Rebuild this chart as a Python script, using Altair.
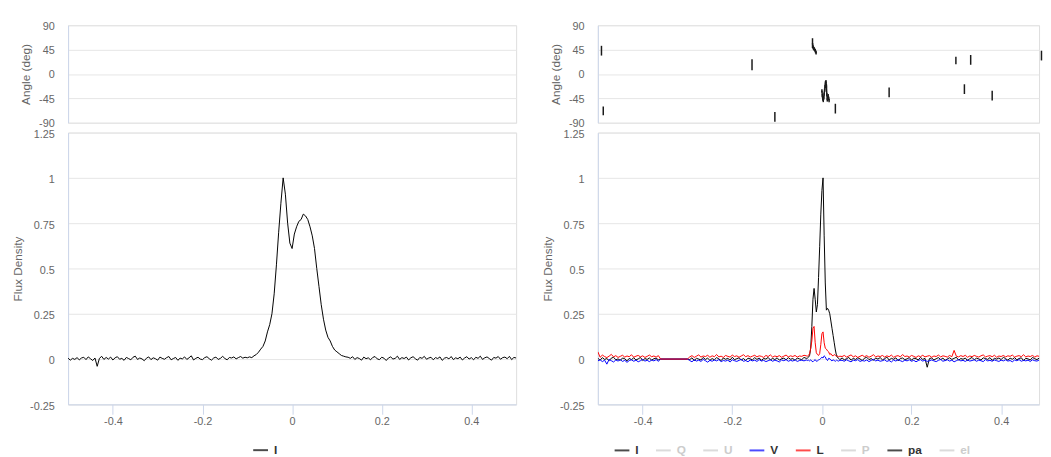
import numpy as np
import pandas as pd
import altair as alt

FONT = "Liberation Sans"
GRID = "#e6e6e6"
AXLINE = "#ccd6eb"
LABEL = "#666666"

# ---------------- left panel: total intensity I ----------------
LEFT_PHASE = np.round(np.arange(-0.5, 0.50001, 0.005), 4)  # 201 bins
LEFT_I_OFF1 = [
    0.005, -0.006, 0.004, -0.002, 0.008, -0.004, 0.006, 0.010, -0.003, 0.012,
    0.002, -0.008, 0.006, -0.040, 0.004, 0.015, -0.002, 0.009, 0.000, 0.011,
    -0.005, 0.007, 0.013, -0.001, 0.004, -0.007, 0.009, 0.003, -0.004, 0.010,
    0.016, -0.002, 0.006, 0.001, -0.009, 0.005, 0.012, -0.003, 0.007, 0.002,
    -0.006, 0.011, 0.004, -0.001, 0.008, 0.014, -0.004, 0.003, 0.009, -0.007,
    0.005, 0.001, 0.012, -0.002, 0.007, 0.018, -0.005, 0.004, 0.010, 0.000,
    -0.003, 0.008, 0.013, 0.002, -0.006, 0.006, 0.011, -0.002, 0.004, 0.015,
    0.003, -0.004, 0.009, 0.006, 0.012, 0.001, 0.008, 0.014, 0.005, 0.010,
    0.007]
LEFT_I_PULSE = [
    0.012, 0.008, 0.018, 0.025, 0.038, 0.055, 0.070, 0.100, 0.150, 0.190,
    0.250, 0.360, 0.520, 0.700, 0.860, 1.000, 0.910, 0.750, 0.640, 0.610,
    0.690, 0.730, 0.760, 0.770, 0.800, 0.790, 0.770, 0.730, 0.680, 0.610,
    0.500, 0.400, 0.300, 0.220, 0.160, 0.120, 0.100, 0.070, 0.050, 0.040,
    0.030, 0.020, 0.016, 0.012]
LEFT_I_OFF2 = [
    0.010, 0.004, 0.013, -0.002, 0.008, 0.003, -0.006, 0.011, 0.002, 0.007,
    -0.004, 0.009, 0.014, 0.001, -0.003, 0.010, 0.005, -0.008, 0.006, 0.012,
    0.000, 0.004, 0.016, -0.002, 0.008, 0.003, 0.011, -0.005, 0.007, 0.013,
    0.002, -0.006, 0.009, 0.004, 0.015, -0.001, 0.006, 0.010, -0.004, 0.008,
    0.003, 0.012, -0.007, 0.005, 0.009, 0.001, 0.014, -0.003, 0.007, 0.002,
    0.011, -0.005, 0.006, 0.013, 0.000, 0.008, -0.004, 0.010, 0.004, 0.016,
    -0.002, 0.007, 0.012, 0.003, -0.006, 0.009, 0.005, 0.014, -0.001, 0.008,
    0.011, 0.002, 0.015, -0.003, 0.009, 0.006]
LEFT_I = LEFT_I_OFF1 + LEFT_I_PULSE + LEFT_I_OFF2

# ---------------- right panel: I, V, L ----------------
R_PH_A = np.round(np.arange(-0.5, -0.3649, 0.005), 4)       # 28
R_PH_GAP = [-0.36, -0.30]                                    # flat, no data
R_PH_B = np.round(np.arange(-0.295, -0.0349, 0.005), 4)      # 53
R_PH_P = np.round(np.arange(-0.0325, 0.04001, 0.0025), 4)    # 30
R_PH_C = np.round(np.arange(0.045, 0.4951, 0.005), 4)        # 91
R_PHASE = list(R_PH_A) + R_PH_GAP + list(R_PH_B) + list(R_PH_P) + list(R_PH_C)

R_I_A = [0.004, -0.006, 0.008, -0.002, 0.003, -0.009, 0.005, 0.010, -0.004, 0.001,
         -0.007, 0.006, 0.002, -0.010, 0.004, -0.003, 0.007, -0.005, 0.001, 0.009,
         -0.008, 0.003, -0.002, 0.006, -0.006, 0.002, 0.005, -0.004]
R_I_B = [-0.003, 0.007, -0.008, 0.004, 0.000, -0.005, 0.009, -0.002, 0.005, -0.007,
         0.003, -0.004, 0.008, 0.001, -0.009, 0.006, -0.001, 0.004, -0.006, 0.010,
         -0.003, 0.002, 0.007, -0.005, 0.003, -0.008, 0.005, 0.001, -0.004, 0.008,
         -0.002, 0.006, -0.007, 0.003, 0.000, 0.009, -0.005, 0.004, -0.003, 0.007,
         -0.006, 0.002, 0.005, -0.004, 0.008, -0.001, 0.003, -0.007, 0.006, 0.001,
         -0.003, 0.009, 0.004]
R_I_P = [0.005, 0.010, 0.020, 0.060, 0.180, 0.330, 0.390, 0.330, 0.260, 0.300,
         0.450, 0.620, 0.800, 0.930, 1.000, 0.680, 0.420, 0.270, 0.280, 0.270,
         0.250, 0.210, 0.170, 0.130, 0.090, 0.050, 0.020, 0.008, 0.004, -0.003]
R_I_C = [0.006, -0.004, 0.002, 0.009, -0.006, 0.004, -0.002, 0.007, 0.001, -0.008,
         0.005, 0.010, -0.003, 0.003, -0.007, 0.006, 0.000, 0.008, -0.004, 0.002,
         0.011, -0.005, 0.004, -0.001, 0.007, -0.009, 0.003, 0.006, -0.003, 0.001,
         0.008, -0.006, 0.005, 0.002, -0.004, 0.009, -0.002, 0.004, -0.045, 0.003,
         0.006, -0.005, 0.002, 0.008, -0.003, 0.005, -0.007, 0.001, 0.007, -0.002,
         0.004, 0.010, -0.006, 0.003, -0.001, 0.006, -0.008, 0.002, 0.009, -0.004,
         0.005, 0.001, -0.005, 0.007, 0.003, -0.002, 0.008, -0.007, 0.004, 0.000,
         0.006, -0.003, 0.010, 0.002, -0.006, 0.005, -0.001, 0.008, -0.004, 0.003,
         0.007, -0.008, 0.004, 0.001, -0.005, 0.009, 0.002, -0.003, 0.006, -0.002,
         0.005]

R_V_A = [-0.010, -0.004, -0.014, -0.006, -0.028, -0.002, -0.009, -0.016, -0.005, -0.011,
         -0.003, -0.013, -0.007, -0.018, -0.008, -0.004, -0.012, -0.006, -0.015, -0.009,
         -0.002, -0.011, -0.007, -0.014, -0.005, -0.010, -0.003, -0.012]
R_V_B = [-0.008, -0.015, -0.004, -0.011, -0.006, -0.013, -0.002, -0.009, -0.017, -0.007,
         -0.012, -0.005, -0.010, -0.003, -0.014, -0.008, -0.011, -0.006, -0.016, -0.004,
         -0.009, -0.013, -0.007, -0.002, -0.012, -0.008, -0.015, -0.005, -0.010, -0.006,
         -0.013, -0.003, -0.011, -0.007, -0.014, -0.009, -0.004, -0.012, -0.006, -0.010,
         -0.016, -0.005, -0.009, -0.003, -0.012, -0.007, -0.011, -0.004, -0.013, -0.008,
         -0.006, -0.010, -0.005]
R_V_P = [-0.008, -0.006, -0.010, -0.004, -0.012, -0.015, -0.008, -0.003, -0.012, -0.010,
         -0.005, -0.002, 0.004, 0.010, 0.006, 0.018, 0.012, -0.002, -0.008, 0.004,
         0.002, -0.006, -0.010, -0.004, -0.008, -0.012, -0.006, -0.009, -0.011, -0.007]
R_V_C = [-0.007, -0.012, -0.004, -0.010, -0.015, -0.006, -0.009, -0.003, -0.013, -0.008,
         -0.011, -0.005, -0.014, -0.007, -0.002, -0.010, -0.006, -0.012, -0.009, -0.004,
         -0.013, -0.008, -0.016, -0.005, -0.011, -0.003, -0.009, -0.014, -0.006, -0.010,
         -0.004, -0.012, -0.007, -0.015, -0.008, -0.003, -0.011, -0.006, -0.013, -0.009,
         -0.005, -0.010, -0.014, -0.007, -0.002, -0.012, -0.008, -0.004, -0.011, -0.006,
         -0.015, -0.009, -0.003, -0.010, -0.007, -0.013, -0.005, -0.011, -0.008, -0.004,
         -0.012, -0.006, -0.009, -0.014, -0.003, -0.010, -0.007, -0.012, -0.005, -0.009,
         -0.013, -0.006, -0.010, -0.004, -0.011, -0.008, -0.015, -0.005, -0.009, -0.003,
         -0.012, -0.007, -0.010, -0.006, -0.013, -0.004, -0.009, -0.011, -0.005, -0.008,
         -0.010]

R_L_A = [0.040, 0.010, 0.022, 0.014, 0.008, 0.016, 0.026, 0.012, 0.019, 0.009,
         0.015, 0.021, 0.011, 0.017, 0.013, 0.024, 0.010, 0.016, 0.020, 0.012,
         0.018, 0.009, 0.015, 0.022, 0.013, 0.017, 0.011, 0.019]
R_L_B = [0.012, 0.019, 0.009, 0.016, 0.023, 0.011, 0.017, 0.014, 0.021, 0.010,
         0.018, 0.013, 0.025, 0.012, 0.016, 0.009, 0.020, 0.015, 0.011, 0.022,
         0.014, 0.018, 0.010, 0.017, 0.024, 0.013, 0.019, 0.011, 0.016, 0.021,
         0.012, 0.018, 0.015, 0.009, 0.020, 0.014, 0.023, 0.011, 0.017, 0.013,
         0.019, 0.010, 0.016, 0.022, 0.012, 0.018, 0.014, 0.020, 0.011, 0.017,
         0.015, 0.021, 0.018]
R_L_P = [0.016, 0.020, 0.030, 0.060, 0.100, 0.170, 0.180, 0.090, 0.035, 0.025,
         0.020, 0.030, 0.080, 0.140, 0.150, 0.090, 0.060, 0.055, 0.045, 0.040,
         0.025, 0.030, 0.020, 0.018, 0.025, 0.020, 0.015, 0.018, 0.012, 0.016]
R_L_C = [0.014, 0.020, 0.011, 0.017, 0.023, 0.012, 0.018, 0.009, 0.015, 0.021,
         0.013, 0.019, 0.010, 0.016, 0.024, 0.012, 0.017, 0.014, 0.020, 0.011,
         0.018, 0.013, 0.022, 0.010, 0.016, 0.019, 0.012, 0.025, 0.014, 0.017,
         0.011, 0.020, 0.015, 0.009, 0.018, 0.013, 0.021, 0.012, 0.016, 0.019,
         0.010, 0.017, 0.014, 0.022, 0.012, 0.018, 0.015, 0.011, 0.020, 0.013,
         0.048, 0.016, 0.012, 0.019, 0.014, 0.021, 0.010, 0.017, 0.013, 0.020,
         0.015, 0.011, 0.018, 0.023, 0.012, 0.016, 0.019, 0.013, 0.021, 0.010,
         0.017, 0.014, 0.020, 0.012, 0.018, 0.015, 0.022, 0.011, 0.016, 0.019,
         0.013, 0.024, 0.012, 0.017, 0.014, 0.020, 0.011, 0.018, 0.015, 0.021,
         0.016]
GAP_VALUES = [0.0, 0.0]
R_I = R_I_A + GAP_VALUES + R_I_B + R_I_P + R_I_C
R_V = R_V_A + GAP_VALUES + R_V_B + R_V_P + R_V_C
R_L = R_L_A + GAP_VALUES + R_L_B + R_L_P + R_L_C

# position angle (deg) with error bars, right panel
PA_PHASE = [-0.492, -0.488, -0.156, -0.105,
            -0.021, -0.020, -0.019, -0.018, -0.017, -0.016, -0.015, -0.014, -0.013,
            0.000, 0.001, 0.002, 0.003, 0.004, 0.005, 0.006, 0.007, 0.008,
            0.009, 0.010, 0.011, 0.012, 0.013, 0.014, 0.015, 0.016,
            0.030, 0.150, 0.299, 0.318, 0.332, 0.380, 0.490]
PA_DEG = [43, -68, 17, -79,
          57, 50, 48, 47, 46, 45, 43, 41, 39,
          -31, -40, -46, -49, -44, -37, -30, -23, -16,
          -14, -22, -38, -48, -44, -40, -45, -49,
          -64, -34, 25, -28, 26, -40, 34]
PA_ERR = [9, 8, 10, 9,
          9, 3, 3, 3, 3, 2, 3, 3, 3,
          3, 3, 3, 3, 3, 3, 3, 3, 3,
          3, 3, 3, 3, 3, 3, 3, 3,
          9, 9, 7, 9, 9, 9, 9]
PA_SEG = (["iso1", "iso2", "iso3", "iso4"] + ["c1"] * 9 + ["c2"] * 17 +
          ["iso5", "iso6", "iso7", "iso8", "iso9", "iso10", "iso11"])

# legends
LEFT_SERIES = ["I"]
LEFT_COLORS = ["#000000"]
RIGHT_SERIES = ["I", "Q", "U", "V", "L", "P", "pa", "el"]
RIGHT_COLORS = ["#000000", "#cccccc", "#cccccc", "#0000ff", "#ff0000", "#cccccc", "#000000", "#cccccc"]
HIDDEN = ["Q", "U", "P", "el"]

ANGLE_TICKS = [-90, -45, 0, 45, 90]
FLUX_TICKS = [-0.25, 0, 0.25, 0.5, 0.75, 1, 1.25]
X_TICKS = [-0.4, -0.2, 0, 0.2, 0.4]

# ---------------- data frames ----------------
left_df = pd.DataFrame({"phase": LEFT_PHASE, "flux": LEFT_I, "series": "I"})
right_df = pd.concat([
    pd.DataFrame({"phase": R_PHASE, "flux": R_I, "series": "I"}),
    pd.DataFrame({"phase": R_PHASE, "flux": R_V, "series": "V"}),
    pd.DataFrame({"phase": R_PHASE, "flux": R_L, "series": "L"}),
], ignore_index=True)
pa_df = pd.DataFrame({"phase": PA_PHASE, "pa": PA_DEG, "err": PA_ERR, "seg": PA_SEG})

# ---------------- scales / axes ----------------
LEFT_W = 455
RIGHT_W = 448
xs_left = alt.Scale(domain=[-0.5, 0.5], nice=False, zero=False)
xs_right = alt.Scale(domain=[-0.5, -0.5 + RIGHT_W / LEFT_W], nice=False, zero=False)
ys_angle = alt.Scale(domain=[-90, 90], nice=False, zero=False)
ys_flux = alt.Scale(domain=[-0.25, 1.25], nice=False, zero=False)


def y_axis(title, values, tpad, loff):
    return alt.Axis(title=title, values=values, labelExpr="'' + datum.value",
                    grid=True, gridColor=GRID, gridWidth=1,
                    domain=True, domainColor=AXLINE, domainWidth=1,
                    ticks=False, tickSize=0, labelPadding=14, labelOffset=loff,
                    labelOverlap=False, labelFlush=False,
                    labelFont=FONT, labelFontSize=11, labelColor=LABEL,
                    titleFont=FONT, titleFontSize=12, titleFontWeight="normal",
                    titleColor=LABEL, titlePadding=tpad)


x_axis = alt.Axis(title=None, values=X_TICKS, labelExpr="'' + datum.value",
                  grid=False, domainColor=AXLINE, domainWidth=1,
                  tickColor=AXLINE, tickSize=10, tickWidth=1, labelPadding=1,
                  labelOverlap=False, labelFlush=False,
                  labelFont=FONT, labelFontSize=11, labelColor=LABEL)


def legend(x, color_expr):
    return alt.Legend(title=None, orient="none", legendX=x, legendY=314,
                      direction="horizontal", symbolType="stroke", symbolSize=225,
                      symbolStrokeWidth=2, symbolOpacity=0.7, labelFont=FONT,
                      labelFontSize=12, labelFontWeight="bold",
                      labelColor={"expr": color_expr}, labelOffset=5,
                      columnPadding=13, padding=0)


ANGLE_AXIS = y_axis("Angle (deg)", ANGLE_TICKS, 6, 1)
FLUX_AXIS = y_axis("Flux Density", FLUX_TICKS, 5, 2)

# ---------------- charts ----------------
angle_left = alt.Chart(alt.Data(values=[])).mark_rule().encode(
    x=alt.X("phase:Q", scale=xs_left, axis=None),
    y=alt.Y("lo:Q", scale=ys_angle, axis=ANGLE_AXIS),
    y2="hi:Q",
).properties(width=LEFT_W, height=99)

pa_base = alt.Chart(pa_df).transform_calculate(
    lo="datum.pa - datum.err", hi="datum.pa + datum.err")
pa_rules = pa_base.mark_rule(color="#1a1a1a", strokeWidth=1.5).encode(
    x=alt.X("phase:Q", scale=xs_right, axis=None),
    y=alt.Y("lo:Q", scale=ys_angle, axis=ANGLE_AXIS),
    y2="hi:Q",
)
pa_line = pa_base.transform_filter("indexof(datum.seg, 'c') == 0").mark_line(
    color="#1a1a1a", strokeWidth=1.5).encode(
    x=alt.X("phase:Q", scale=xs_right, axis=None),
    y=alt.Y("pa:Q", scale=ys_angle, axis=ANGLE_AXIS),
    detail="seg:N",
)
angle_right = alt.layer(pa_rules, pa_line).properties(width=RIGHT_W, height=99)

flux_left = alt.Chart(left_df).mark_line(strokeWidth=1, clip=True).encode(
    x=alt.X("phase:Q", scale=xs_left, axis=x_axis),
    y=alt.Y("flux:Q", scale=ys_flux, axis=FLUX_AXIS),
    color=alt.Color("series:N", scale=alt.Scale(domain=LEFT_SERIES, range=LEFT_COLORS),
                    legend=legend(187, "'#333333'")),
).properties(width=LEFT_W, height=276)

hidden_expr = "indexof(['" + "','".join(HIDDEN) + "'], datum.value) >= 0 ? '#cccccc' : '#333333'"
right_color = alt.Color("series:N", scale=alt.Scale(domain=RIGHT_SERIES, range=RIGHT_COLORS),
                        legend=legend(16, hidden_expr))


def series_line(name):
    return alt.Chart(right_df).transform_filter(alt.datum.series == name).mark_line(
        strokeWidth=1, clip=True).encode(
        x=alt.X("phase:Q", scale=xs_right, axis=x_axis),
        y=alt.Y("flux:Q", scale=ys_flux, axis=FLUX_AXIS),
        color=right_color,
    )


flux_right = alt.layer(series_line("I"), series_line("V"), series_line("L")).properties(
    width=RIGHT_W, height=276)

chart = alt.concat(
    angle_left, angle_right, flux_left, flux_right,
    columns=2, spacing={"row": 10, "column": 83}, bounds="flush", align="each",
).resolve_scale(
    x="independent", y="independent", color="independent"
).resolve_legend(color="independent").properties(
    padding={"left": 3, "top": 8, "right": 0, "bottom": 0}
).configure_view(stroke=None).configure(font=FONT)

chart.save("out.html", embed_options={"renderer": "svg", "actions": False})
